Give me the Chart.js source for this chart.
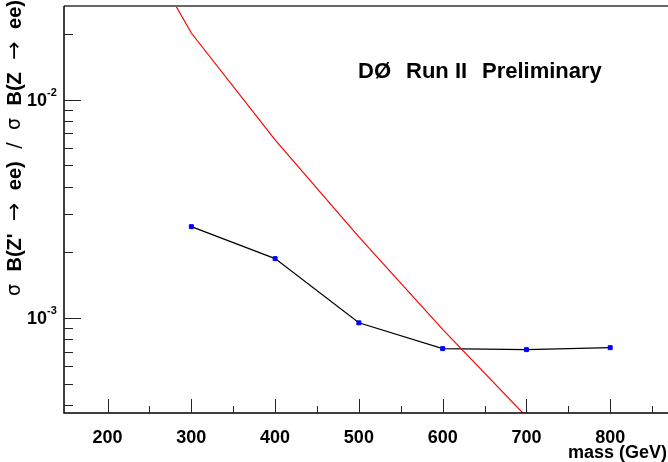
<!DOCTYPE html>
<html>
<head>
<meta charset="utf-8">
<script src="https://cdn.jsdelivr.net/npm/chart.js@4/dist/chart.umd.min.js"></script>
<style>
  html, body { margin: 0; padding: 0; background: #fff; }
  #clip { width: 668px; height: 462px; overflow: hidden; }
  #wrap { width: 673px; height: 462px; }
</style>
</head>
<body>
<div id="clip"><div id="wrap"><canvas id="c"></canvas></div></div>
<script>
// Z' -> ee limit, DØ Run II
const massPoints = [300, 400, 500, 600, 700, 800];
const limitValues = [2.62e-3, 1.87e-3, 9.5e-4, 7.24e-4, 7.16e-4, 7.31e-4];

const theoryMass = [200, 300, 400, 500, 600, 700];
const theoryValues = [9.5e-2, 2.02e-2, 6.54e-3, 2.35e-3, 8.87e-4, 3.53e-4];

const xMajorTicks = [200, 300, 400, 500, 600, 700, 800];
const xMinorTicks = [250, 350, 450, 550, 650, 750, 850];
const yMajorTicks = [1e-3, 1e-2];
const yMajorLabels = ["-3", "-2"];
const yMinorTicks = [4e-4, 5e-4, 6e-4, 7e-4, 8e-4, 9e-4,
  2e-3, 3e-3, 4e-3, 5e-3, 6e-3, 7e-3, 8e-3, 9e-3, 2e-2];

// y title pieces, bottom to top: [text, font]
const yTitleParts = [
  ["\u03c3", "19px"], ["B(Z'", "bold 20px"], ["\u2192", "22px"], ["ee)", "bold 20px"],
  ["/", "19px"], ["\u03c3", "19px"], ["B(Z", "bold 20px"], ["\u2192", "22px"], ["ee)", "bold 20px"],
];

const FONT = '"Liberation Sans", Arial, Helvetica, sans-serif';
const SYM = '"DejaVu Sans", sans-serif';

// ROOT-style frame: ticks inside, labels drawn by hand
const rootFrame = {
  id: "rootFrame",
  afterDraw(chart) {
    const ctx = chart.ctx;
    const a = chart.chartArea;
    const right = 668;
    const xs = chart.scales.x;
    const ys = chart.scales.y;
    ctx.save();

    // top frame line
    ctx.strokeStyle = "#666";
    ctx.lineWidth = 2;
    ctx.beginPath();
    ctx.moveTo(a.left, a.top);
    ctx.lineTo(right, a.top);
    ctx.stroke();

    // axes
    ctx.strokeStyle = "#000";
    ctx.lineWidth = 1.5;
    ctx.beginPath();
    ctx.moveTo(a.left, a.top);
    ctx.lineTo(a.left, a.bottom);
    ctx.lineTo(right, a.bottom);
    ctx.stroke();

    ctx.lineWidth = 1;
    ctx.strokeStyle = "#222";
    ctx.beginPath();
    for (const v of xMajorTicks) {
      const px = Math.round(xs.getPixelForValue(v)) + 0.5;
      ctx.moveTo(px, a.bottom);
      ctx.lineTo(px, a.bottom - 14);
    }
    for (const v of xMinorTicks) {
      const px = Math.round(xs.getPixelForValue(v)) + 0.5;
      ctx.moveTo(px, a.bottom);
      ctx.lineTo(px, a.bottom - 7);
    }
    for (const v of yMajorTicks) {
      const py = Math.round(ys.getPixelForValue(v)) + 0.5;
      ctx.moveTo(a.left, py);
      ctx.lineTo(a.left + 17, py);
    }
    for (const v of yMinorTicks) {
      const py = Math.round(ys.getPixelForValue(v)) + 0.5;
      ctx.moveTo(a.left, py);
      ctx.lineTo(a.left + 9, py);
    }
    ctx.stroke();

    ctx.fillStyle = "#000";
    // x labels
    ctx.font = "bold 18px " + FONT;
    ctx.textAlign = "center";
    ctx.textBaseline = "middle";
    for (const v of xMajorTicks) {
      ctx.fillText(String(v), xs.getPixelForValue(v), 438);
    }
    ctx.textAlign = "right";
    ctx.fillText("mass (GeV)", 667, 453);

    // y labels 10^n
    yMajorTicks.forEach((v, i) => {
      const py = ys.getPixelForValue(v);
      ctx.font = "bold 18px " + FONT;
      ctx.textAlign = "right";
      ctx.textBaseline = "middle";
      ctx.fillText("10", 47, py + 1);
      ctx.font = "bold 11px " + FONT;
      ctx.textAlign = "left";
      ctx.fillText(yMajorLabels[i], 47, py - 7);
    });

    // y title, rotated, from the bottom up, spread over 0..296
    ctx.save();
    ctx.translate(15, 296);
    ctx.rotate(-Math.PI / 2);
    ctx.textAlign = "left";
    ctx.textBaseline = "middle";
    const fontOf = (f) => f + " " + (f.indexOf("bold") >= 0 ? FONT : SYM);
    let total = 0;
    for (const [txt, f] of yTitleParts) {
      ctx.font = fontOf(f);
      total += ctx.measureText(txt).width;
    }
    const gap = (296 - total) / (yTitleParts.length - 1);
    let off = 0;
    for (const [txt, f] of yTitleParts) {
      ctx.font = fontOf(f);
      ctx.fillText(txt, off, 0);
      off += ctx.measureText(txt).width + gap;
    }
    ctx.restore();

    // experiment label
    ctx.font = "bold 22px " + FONT;
    ctx.textAlign = "left";
    ctx.textBaseline = "middle";
    ctx.fillText("D\u00d8", 358, 72);
    ctx.fillText("Run II", 406, 72);
    ctx.fillText("Preliminary", 482, 72);

    ctx.restore();
  },
};

new Chart(document.getElementById("c"), {
  type: "line",
  data: {
    datasets: [
      {
        label: "theory",
        data: theoryMass.map((m, i) => ({ x: m, y: theoryValues[i] })),
        borderColor: "#ff0000",
        borderWidth: 1.2,
        pointRadius: 0,
        tension: 0,
      },
      {
        label: "limit",
        data: massPoints.map((m, i) => ({ x: m, y: limitValues[i] })),
        borderColor: "#000",
        borderWidth: 1.2,
        pointStyle: "rect",
        pointRadius: 2.8,
        pointBackgroundColor: "#0000ff",
        pointBorderColor: "#0000ff",
        pointBorderWidth: 1,
        tension: 0,
      },
    ],
  },
  options: {
    responsive: true,
    maintainAspectRatio: false,
    animation: false,
    layout: { padding: { left: 64, top: 6, right: 0, bottom: 49 } },
    plugins: { legend: { display: false }, tooltip: { enabled: false } },
    scales: {
      x: { type: "linear", min: 148, max: 869, display: false },
      y: { type: "logarithmic", min: 3.67e-4, max: 2.686e-2, display: false },
    },
  },
  plugins: [rootFrame],
});
</script>
</body>
</html>
